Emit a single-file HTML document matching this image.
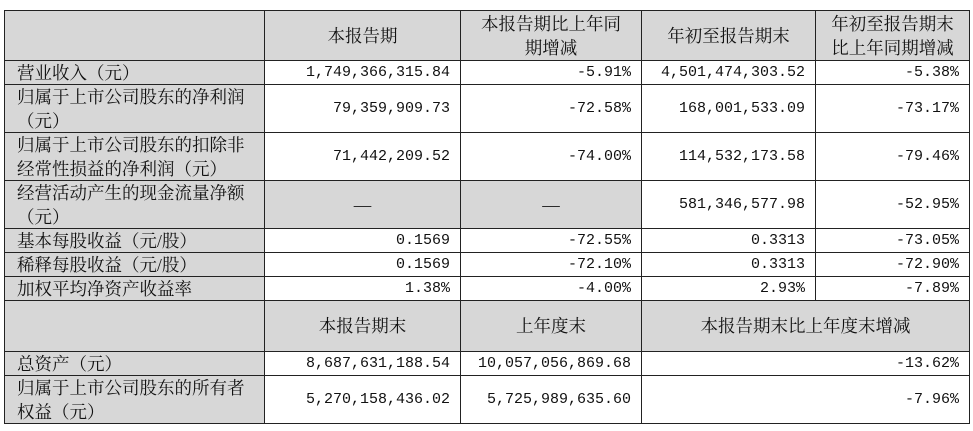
<!DOCTYPE html>
<html><head><meta charset="utf-8"><style>
body{margin:0;width:973px;height:431px;background:#fff;position:relative;overflow:hidden;font-family:"Liberation Serif","Noto Serif CJK SC",serif;color:#111}
.c{position:absolute;box-sizing:border-box;border-right:1.5px solid #222;border-bottom:1.5px solid #222;display:flex;align-items:center;font-size:17.5px;line-height:24px}
.g{background:#d7d7d7}
.h{justify-content:center;text-align:center}
.l{padding-left:12px;white-space:nowrap}
.n{justify-content:flex-end;padding-right:10px;font-family:"Liberation Mono","Noto Serif CJK SC",monospace;font-size:15px}
</style></head><body>
<div style="position:absolute;left:4px;top:10px;width:966px;height:414px;border-left:1.5px solid #222;border-top:1.5px solid #222;box-sizing:border-box"></div>
<div id="t"></div>
<script>
const X=[5,265,461,642,816,970];
const Y=[11,61,85,133,181,229,253,277,301,352,376,424];
let h='';
function cell(x0,x1,y0,y1,cls,txt){h+=`<div class="c ${cls}" style="left:${X[x0]}px;width:${X[x1]-X[x0]}px;top:${Y[y0]}px;height:${Y[y1]-Y[y0]}px">${txt}</div>`}
cell(0,1,0,1,'g','');
cell(1,2,0,1,'g h','本报告期');
cell(2,3,0,1,'g h','本报告期比上年同<br>期增减');
cell(3,4,0,1,'g h','年初至报告期末');
cell(4,5,0,1,'g h','年初至报告期末<br>比上年同期增减');
const rows=[
['营业收入（元）','1,749,366,315.84','-5.91%','4,501,474,303.52','-5.38%'],
['归属于上市公司股东的净利润<br>（元）','79,359,909.73','-72.58%','168,001,533.09','-73.17%'],
['归属于上市公司股东的扣除非<br>经常性损益的净利润（元）','71,442,209.52','-74.00%','114,532,173.58','-79.46%'],
['经营活动产生的现金流量净额<br>（元）','—','—','581,346,577.98','-52.95%'],
['基本每股收益（元/股）','0.1569','-72.55%','0.3313','-73.05%'],
['稀释每股收益（元/股）','0.1569','-72.10%','0.3313','-72.90%'],
['加权平均净资产收益率','1.38%','-4.00%','2.93%','-7.89%']];
rows.forEach((r,i)=>{
 cell(0,1,i+1,i+2,'g l',r[0]);
 for(let j=1;j<5;j++){
  if(i==3&&j<3) cell(j,j+1,i+1,i+2,'g h',r[j]);
  else cell(j,j+1,i+1,i+2,'n',r[j]);
 }
});
cell(0,1,8,9,'g','');
cell(1,2,8,9,'g h','本报告期末');
cell(2,3,8,9,'g h','上年度末');
cell(3,5,8,9,'g h','本报告期末比上年度末增减');
cell(0,1,9,10,'g l','总资产（元）');
cell(1,2,9,10,'n','8,687,631,188.54');
cell(2,3,9,10,'n','10,057,056,869.68');
cell(3,5,9,10,'n','-13.62%');
cell(0,1,10,11,'g l','归属于上市公司股东的所有者<br>权益（元）');
cell(1,2,10,11,'n','5,270,158,436.02');
cell(2,3,10,11,'n','5,725,989,635.60');
cell(3,5,10,11,'n','-7.96%');
document.getElementById('t').innerHTML=h;
</script>
</body></html>
